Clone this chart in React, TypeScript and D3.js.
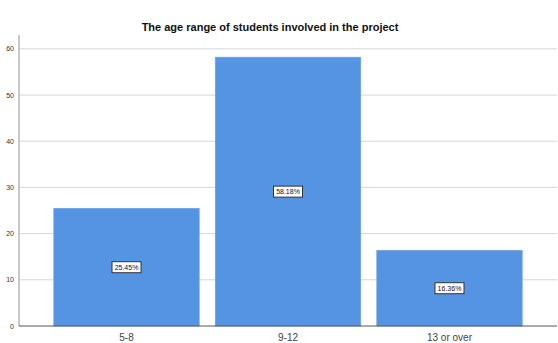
import React from "react";
import * as d3 from "d3";

const categories = ["5-8", "9-12", "13 or over"];
const percents = [25.45, 58.18, 16.36];
const yTicks = [0, 10, 20, 30, 40, 50, 60];
const title = "The age range of students involved in the project";

const W = 558;
const H = 343;
const plot = { left: 19, right: 557, top: 35, bottom: 326 };

export default function App() {
  const x = d3
    .scaleBand<string>()
    .domain(categories)
    .range([plot.left, plot.right])
    .paddingInner(0.1)
    .paddingOuter(0.2157);
  const y = d3.scaleLinear().domain([0, 63]).range([plot.bottom, plot.top]);
  const fmt = (v: number) => `${v.toFixed(2)}%`;
  const font = "'Liberation Sans', Arial, sans-serif";

  return (
    <svg
      width={W}
      height={H}
      style={{ position: "absolute", left: 0, top: 0, background: "#fff" }}
      fontFamily={font}
    >
      <text x={270} y={31} textAnchor="middle" fontSize={11} fontWeight="bold" fill="#111">
        {title}
      </text>
      {/* horizontal grid lines */}
      {yTicks.filter((t) => t > 0).map((t) => (
        <line key={t} x1={plot.left} x2={plot.right} y1={y(t)} y2={y(t)} stroke="#d6d6d6" strokeWidth={1} />
      ))}
      {/* y tick labels */}
      {yTicks.map((t) => (
        <text key={t} x={14} y={y(t) + 2.5} textAnchor="end" fontSize={7} fill="#333">
          {t}
        </text>
      ))}
      {/* bars */}
      {categories.map((c, i) => (
        <rect
          key={c}
          x={x(c)!}
          y={y(percents[i])}
          width={x.bandwidth()}
          height={y(0) - y(percents[i])}
          fill="#5494e2"
          stroke="#6aa3e8"
          strokeWidth={0.8}
        />
      ))}
      {/* y axis line */}
      <line x1={plot.left} x2={plot.left} y1={plot.top} y2={plot.bottom} stroke="#c8c8c8" strokeWidth={2} />
      {/* baseline */}
      <line x1={plot.left} x2={plot.right} y1={plot.bottom} y2={plot.bottom} stroke="#555" strokeWidth={1} />
      {/* value labels */}
      {categories.map((c, i) => {
        const cx = x(c)! + x.bandwidth() / 2;
        const cy = y(percents[i] / 2);
        return (
          <g key={c}>
            <rect x={cx - 14.5} y={cy - 5.5} width={29} height={11} fill="#fff" stroke="#333" strokeWidth={1} />
            <text x={cx} y={cy + 2.5} textAnchor="middle" fontSize={7} fill="#111">
              {fmt(percents[i])}
            </text>
          </g>
        );
      })}
      {/* category labels */}
      {categories.map((c) => (
        <text key={c} x={x(c)! + x.bandwidth() / 2} y={341} textAnchor="middle" fontSize={10} fill="#444">
          {c}
        </text>
      ))}
    </svg>
  );
}
